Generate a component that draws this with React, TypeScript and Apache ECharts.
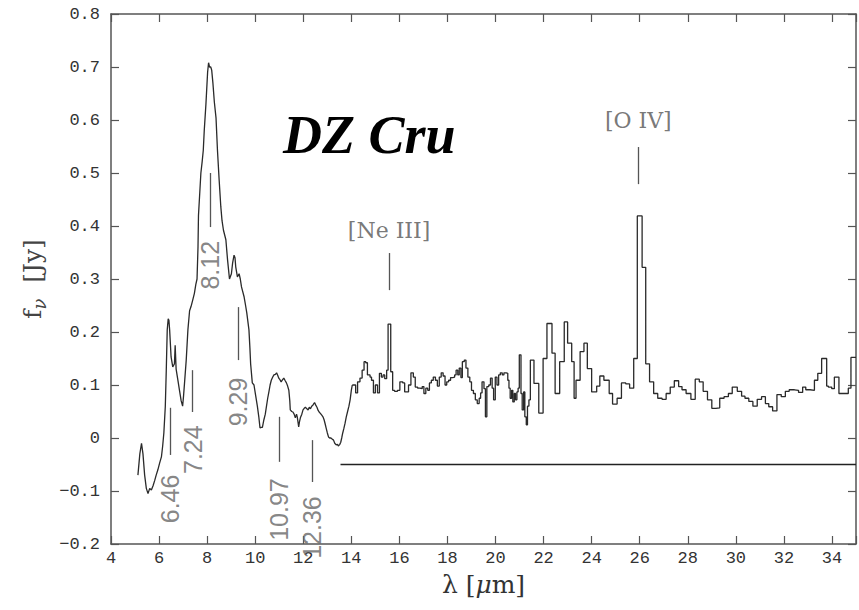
import React, { useEffect, useRef } from "react";
import * as echarts from "echarts";

// Short-wavelength module (continuous trace)
const slWavelength = [
  5.12, 5.2, 5.27, 5.33, 5.4, 5.47, 5.54, 5.61, 5.68, 5.75, 5.82, 5.88, 5.95, 6.02, 6.1, 6.15, 6.2, 6.26, 6.3, 6.34,
  6.38, 6.41, 6.44, 6.5, 6.57, 6.64, 6.67, 6.69, 6.71, 6.78, 6.85, 6.92, 6.98, 7.02, 7.06, 7.13, 7.2, 7.27, 7.33, 7.4,
  7.47, 7.53, 7.58, 7.62, 7.64, 7.69, 7.74, 7.79, 7.84, 7.88, 7.95, 8.02, 8.06, 8.1, 8.15, 8.19, 8.24, 8.3, 8.37, 8.43,
  8.5, 8.57, 8.62, 8.68, 8.78, 8.85, 8.93, 9.01, 9.06, 9.12, 9.16, 9.19, 9.26, 9.33, 9.38, 9.43, 9.54, 9.6, 9.65, 9.74,
  9.78, 9.81, 9.88, 9.95, 10.02, 10.09, 10.15, 10.2, 10.25, 10.3, 10.36, 10.42, 10.47, 10.52, 10.57, 10.62, 10.67, 10.73, 10.78, 10.84,
  10.89, 10.94, 10.98, 11.03, 11.08, 11.14, 11.19, 11.25, 11.3, 11.35, 11.4, 11.44, 11.46, 11.52, 11.57, 11.62, 11.67, 11.72, 11.75, 11.81,
  11.84, 11.88, 11.94, 11.99, 12.04, 12.09, 12.15, 12.2, 12.25, 12.3, 12.35, 12.4, 12.47, 12.52, 12.57, 12.62, 12.66, 12.72, 12.77, 12.82,
  12.87, 12.92, 12.95, 13.0, 13.05, 13.1, 13.15, 13.2, 13.26, 13.31, 13.37, 13.42, 13.46, 13.52, 13.56, 13.6, 13.64, 13.69, 13.74, 13.79,
  13.84, 13.9, 13.95, 14.0, 14.04,
];
const slFlux = [
  -0.07, -0.03, -0.01, -0.03, -0.07, -0.095, -0.105, -0.095, -0.098, -0.09, -0.08, -0.07, -0.06, -0.048, -0.035, -0.015, 0.01, 0.06, 0.128, 0.204,
  0.225, 0.222, 0.204, 0.153, 0.134, 0.14, 0.175, 0.175, 0.13, 0.11, 0.09, 0.07, 0.06, 0.08, 0.104, 0.147, 0.204, 0.24, 0.248, 0.26,
  0.273, 0.29, 0.3, 0.36, 0.42, 0.46, 0.5, 0.52, 0.543, 0.58, 0.63, 0.69, 0.708, 0.7, 0.7, 0.694, 0.67, 0.634, 0.604, 0.543,
  0.487, 0.436, 0.41, 0.392, 0.374, 0.336, 0.3, 0.31, 0.33, 0.345, 0.34, 0.323, 0.304, 0.31, 0.3, 0.285, 0.266, 0.25, 0.236, 0.204,
  0.17, 0.14, 0.104, 0.1, 0.08, 0.06, 0.04, 0.019, 0.02, 0.02, 0.034, 0.045, 0.06, 0.075, 0.087, 0.1, 0.109, 0.115, 0.119, 0.12,
  0.123, 0.118, 0.113, 0.11, 0.106, 0.11, 0.113, 0.108, 0.104, 0.098, 0.09, 0.07, 0.053, 0.05, 0.049, 0.045, 0.038, 0.045, 0.04, 0.021,
  0.03, 0.038, 0.045, 0.053, 0.056, 0.058, 0.055, 0.053, 0.058, 0.055, 0.06, 0.062, 0.067, 0.062, 0.058, 0.052, 0.049, 0.046, 0.043, 0.04,
  0.034, 0.025, 0.019, 0.01, 0.002, 0.0, 0.0, -0.002, -0.004, -0.01, -0.013, -0.012, -0.015, -0.012, -0.008, 0.0, 0.009, 0.018, 0.028, 0.04,
  0.049, 0.06, 0.072, 0.09, 0.1,
];

// Long-wavelength module (binned, value holds from bin start)
const llWavelength = [
  14.04, 14.1, 14.18, 14.26, 14.36, 14.45, 14.53, 14.6, 14.67, 14.78, 14.84, 14.92, 15.0, 15.09, 15.17, 15.25, 15.32, 15.39, 15.47, 15.53,
  15.64, 15.72, 15.8, 15.92, 16.02, 16.14, 16.22, 16.38, 16.48, 16.58, 16.66, 16.76, 16.86, 16.95, 17.02, 17.1, 17.18, 17.25, 17.33, 17.41,
  17.5, 17.58, 17.66, 17.74, 17.82, 17.9, 17.97, 18.05, 18.13, 18.22, 18.3, 18.36, 18.43, 18.49, 18.56, 18.62, 18.7, 18.77, 18.85, 18.93,
  19.0, 19.08, 19.16, 19.24, 19.32, 19.38, 19.44, 19.52, 19.58, 19.64, 19.72, 19.79, 19.86, 19.92, 19.99, 20.06, 20.13, 20.2, 20.28, 20.35,
  20.45, 20.51, 20.56, 20.61, 20.67, 20.72, 20.78, 20.83, 20.89, 20.94, 20.99, 21.06, 21.11, 21.17, 21.22, 21.28, 21.33, 21.39, 21.45, 21.6,
  21.8, 21.98, 22.14, 22.35, 22.48, 22.67, 22.86, 23.0, 23.17, 23.27, 23.35, 23.52, 23.68, 23.82, 24.0, 24.21, 24.34, 24.51, 24.73, 24.87,
  25.06, 25.24, 25.42, 25.58, 25.75, 25.9, 26.1, 26.25, 26.41, 26.58, 26.75, 26.93, 27.1, 27.27, 27.44, 27.62, 27.76, 27.93, 28.13, 28.31,
  28.48, 28.64, 28.82, 29.0, 29.17, 29.33, 29.51, 29.69, 29.85, 30.06, 30.24, 30.38, 30.54, 30.71, 30.89, 31.07, 31.23, 31.37, 31.53, 31.71,
  31.89, 32.06, 32.22, 32.44, 32.61, 32.78, 32.91, 33.09, 33.27, 33.41, 33.57, 33.78, 33.85, 33.99, 34.1, 34.29, 34.68, 34.79, 35.0,
];
const llFlux = [
  0.1, 0.1, 0.085, 0.106, 0.113, 0.128, 0.144, 0.142, 0.119, 0.115, 0.109, 0.085, 0.1, 0.085, 0.122, 0.115, 0.119, 0.112, 0.128, 0.215,
  0.125, 0.09, 0.088, 0.09, 0.106, 0.104, 0.087, 0.1, 0.123, 0.115, 0.096, 0.094, 0.093, 0.097, 0.084, 0.094, 0.09, 0.104, 0.109, 0.115,
  0.109, 0.098, 0.115, 0.123, 0.117, 0.1, 0.106, 0.109, 0.114, 0.115, 0.119, 0.128, 0.119, 0.132, 0.114, 0.144, 0.147, 0.132, 0.115, 0.106,
  0.09, 0.084, 0.072, 0.065, 0.075, 0.085, 0.106, 0.093, 0.04, 0.097, 0.1, 0.113, 0.094, 0.072, 0.115, 0.1, 0.119, 0.123, 0.119, 0.123,
  0.122, 0.109, 0.094, 0.075, 0.09, 0.068, 0.084, 0.072, 0.087, 0.094, 0.157, 0.084, 0.053, 0.087, 0.04, 0.025, 0.06, 0.072, 0.147, 0.103,
  0.047, 0.15, 0.216, 0.16, 0.084, 0.144, 0.219, 0.179, 0.144, 0.075, 0.109, 0.163, 0.179, 0.131, 0.087, 0.098, 0.117, 0.109, 0.084, 0.064,
  0.075, 0.104, 0.102, 0.094, 0.15, 0.419, 0.322, 0.14, 0.106, 0.084, 0.075, 0.073, 0.084, 0.096, 0.108, 0.097, 0.091, 0.084, 0.073, 0.111,
  0.106, 0.088, 0.072, 0.056, 0.057, 0.075, 0.078, 0.084, 0.096, 0.088, 0.079, 0.075, 0.069, 0.06, 0.073, 0.078, 0.065, 0.059, 0.051, 0.082,
  0.078, 0.088, 0.091, 0.09, 0.086, 0.096, 0.091, 0.09, 0.109, 0.122, 0.15, 0.098, 0.096, 0.093, 0.115, 0.084, 0.094, 0.152, 0.152,
];

// Horizontal reference line
const baselineX = [13.55, 35];
const baselineY = [-0.05, -0.05];

// PAH feature annotations
const featureLabels = ["6.46", "7.24", "8.12", "9.29", "10.97", "12.36"];
const featureX = [6.47, 7.4, 8.13, 9.29, 11.0, 12.38];
const featureLineTop = [0.057, 0.128, 0.5, 0.247, 0.04, -0.004];
const featureLineBottom = [-0.032, 0.049, 0.398, 0.147, -0.045, -0.083];
const featureLabelY = [-0.115, -0.022, 0.326, 0.068, -0.135, -0.169];

// Emission line annotations
const emissionLabels = ["[Ne III]", "[O IV]"];
const emissionX = [15.57, 25.94];
const emissionLineTop = [0.349, 0.549];
const emissionLineBottom = [0.279, 0.479];
const emissionLabelY = [0.392, 0.6];

const TITLE = "DZ Cru";

const axisColor = "#555";
const tickFont = "Liberation Mono";

export default function App() {
  const ref = useRef<HTMLDivElement>(null);
  useEffect(() => {
    if (!ref.current) return;
    const chart = echarts.init(ref.current, undefined, { renderer: "svg" });
    const slData = slWavelength.map((x, i) => [x, slFlux[i]]);
    const llData = llWavelength.map((x, i) => [x, llFlux[i]]);
    const baseData = baselineX.map((x, i) => [x, baselineY[i]]);
    const fmtY = (v: number) => {
      if (Math.abs(v) < 1e-9) return "0";
      return (v < 0 ? "\u2212" : "") + Math.abs(v).toFixed(1);
    };
    const fmtX = (v: number) => (v === 35 ? "" : String(v));
    const axisLine = { show: true, onZero: false, lineStyle: { color: axisColor, width: 1.5 } };
    const axisTick = { show: true, inside: true, length: 8, lineStyle: { color: axisColor, width: 1.2 } };
    const option: any = {
      animation: false,
      backgroundColor: "#ffffff",
      grid: { left: 111, top: 14, width: 751, height: 530, containLabel: false },
      xAxis: [
        {
          type: "value",
          min: 4,
          max: 35,
          interval: 2,
          position: "bottom",
          axisLine,
          axisTick,
          splitLine: { show: false },
          axisLabel: { formatter: fmtX, color: "#333", fontFamily: tickFont, fontSize: 17, margin: 6 },
          name: "λ [{i|μ}m]",
          nameLocation: "middle",
          nameGap: 24,
          nameTextStyle: {
            fontFamily: "DejaVu Serif",
            fontSize: 25,
            color: "#333",
            rich: { i: { fontFamily: "DejaVu Serif", fontStyle: "italic", fontSize: 25, color: "#333" } },
          },
        },
        {
          type: "value",
          min: 4,
          max: 35,
          interval: 2,
          position: "top",
          axisLine,
          axisTick,
          splitLine: { show: false },
          axisLabel: { show: false },
        },
      ],
      yAxis: [
        {
          type: "value",
          min: -0.2,
          max: 0.8,
          interval: 0.1,
          position: "left",
          axisLine,
          axisTick,
          splitLine: { show: false },
          axisLabel: { formatter: fmtY, color: "#333", fontFamily: tickFont, fontSize: 17, margin: 11 },
          name: "{f|f}{s|ν}  [Jy]",
          nameLocation: "middle",
          nameGap: 62,
          nameRotate: 90,
          nameTextStyle: {
            fontFamily: "DejaVu Serif",
            fontSize: 25,
            color: "#444",
            rich: {
              f: { fontFamily: "DejaVu Serif", fontSize: 25, color: "#444" },
              s: { fontFamily: "DejaVu Serif", fontStyle: "italic", fontSize: 18, color: "#444", padding: [14, 0, 0, 0] },
            },
          },
        },
        {
          type: "value",
          min: -0.2,
          max: 0.8,
          interval: 0.1,
          position: "right",
          axisLine,
          axisTick,
          splitLine: { show: false },
          axisLabel: { show: false },
        },
      ],
      graphic: [
        {
          type: "text",
          x: 283,
          y: 135,
          style: {
            text: TITLE,
            fontFamily: "Liberation Serif",
            fontWeight: "bold",
            fontStyle: "italic",
            fontSize: 54,
            fill: "#000",
            textAlign: "left",
            textVerticalAlign: "middle",
          },
        },
      ],
      series: [
        {
          type: "line",
          data: slData,
          showSymbol: false,
          symbol: "none",
          lineStyle: { color: "#2a2a2a", width: 1.3 },
          silent: true,
          z: 3,
        },
        {
          type: "line",
          data: llData,
          step: "end",
          showSymbol: false,
          symbol: "none",
          lineStyle: { color: "#2a2a2a", width: 1.3 },
          silent: true,
          z: 3,
        },
        {
          type: "line",
          data: baseData,
          showSymbol: false,
          symbol: "none",
          lineStyle: { color: "#222", width: 1.3 },
          silent: true,
          z: 3,
        },
        {
          type: "scatter",
          symbolSize: 0,
          silent: true,
          data: featureX.map((x, i) => [x, featureLabelY[i]]),
          label: {
            show: true,
            position: "inside",
            rotate: 90,
            formatter: (p: any) => featureLabels[p.dataIndex],
            fontFamily: "Liberation Sans",
            fontSize: 25,
            color: "#666",
          },
          markLine: {
            silent: true,
            symbol: ["none", "none"],
            label: { show: false },
            lineStyle: { color: "#555", width: 1.3, type: "solid" },
            data: featureX.map((x, i) => [
              { coord: [x, featureLineTop[i]] },
              { coord: [x, featureLineBottom[i]] },
            ]),
          },
          z: 4,
        },
        {
          type: "scatter",
          symbolSize: 0,
          silent: true,
          data: emissionX.map((x, i) => [x, emissionLabelY[i]]),
          label: {
            show: true,
            position: "inside",
            formatter: (p: any) => emissionLabels[p.dataIndex],
            fontFamily: "DejaVu Serif",
            fontSize: 22,
            color: "#555",
          },
          markLine: {
            silent: true,
            symbol: ["none", "none"],
            label: { show: false },
            lineStyle: { color: "#555", width: 1.3, type: "solid" },
            data: emissionX.map((x, i) => [
              { coord: [x, emissionLineTop[i]] },
              { coord: [x, emissionLineBottom[i]] },
            ]),
          },
          z: 4,
        },
      ],
    };
    chart.setOption(option);
    return () => chart.dispose();
  }, []);
  return (
    <div
      ref={ref}
      style={{ position: "absolute", left: 0, top: 0, width: 859, height: 610, background: "#fff" }}
    />
  );
}
